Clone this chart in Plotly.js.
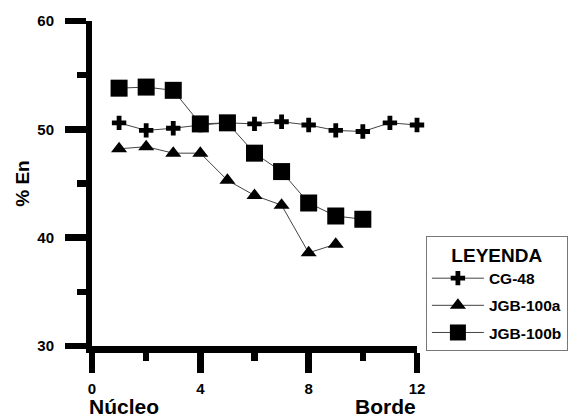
<!DOCTYPE html>
<html>
<head>
<meta charset="utf-8">
<script src="https://cdn.plot.ly/plotly-3.0.1.min.js"></script>
<style>html,body{margin:0;padding:0;background:#fff;}#chart{width:574px;height:419px;}</style>
</head>
<body>
<div id="chart"></div>
<script>
const posCG48 = [1,2,3,4,5,6,7,8,9,10,11,12];
const valCG48 = [50.6,49.9,50.1,50.4,50.6,50.5,50.7,50.4,49.9,49.8,50.6,50.4];
const posJGB100a = [1,2,3,4,5,6,7,8,9];
const valJGB100a = [48.2,48.4,47.8,47.8,45.3,43.9,43.0,38.6,39.4];
const posJGB100b = [1,2,3,4,5,6,7,8,9,10];
const valJGB100b = [53.8,53.9,53.6,50.5,50.6,47.8,46.1,43.2,42.0,41.7];
const seriesNames = ['CG-48','JGB-100a','JGB-100b'];
const xTicks = [0,4,8,12];
const yTicks = [30,40,50,60];

const FONT = 'Liberation Sans, Arial, Helvetica, sans-serif';
const lineStyle = {color:'#444', width:1};

function tr(x, y, name, symbol, size, grp){
  return {x:x, y:y, name:name, legendgroup:grp, type:'scatter', mode:'lines+markers', cliponaxis:false,
    line:lineStyle, marker:{symbol:symbol, size:size, color:'#000', line:{width:0}}};
}
const data = [
  tr(posCG48, valCG48, seriesNames[0], 'cross', 12, 'a'),
  tr(posJGB100a, valJGB100a, seriesNames[1], 'triangle-up', 14, 'b'),
  tr(posJGB100b, valJGB100b, seriesNames[2], 'square', 17, 'c')
];

const LW = 6.5;
const axisCommon = {showgrid:false, zeroline:false, showline:true, linecolor:'#000', linewidth:LW,
  ticks:'outside', tickcolor:'#000', tickwidth:LW,
  tickfont:{family:FONT, size:15, color:'#000', weight:'bold'}};

const layout = {
  width:574, height:419,
  margin:{l:91.5, r:157, t:20.7, b:73.2, pad:0},
  paper_bgcolor:'#fff', plot_bgcolor:'#fff',
  showlegend:true,
  xaxis:Object.assign({}, axisCommon, {range:[0,12], tickvals:xTicks, ticklen:20, ticklabelstandoff:3,
    minor:{dtick:2, tick0:0, ticks:'outside', ticklen:8, tickwidth:LW, tickcolor:'#000', showgrid:false}}),
  yaxis:Object.assign({}, axisCommon, {range:[30,60], tickvals:yTicks, ticklen:20.5, ticklabelstandoff:8,
    minor:{dtick:5, tick0:0, ticks:'outside', ticklen:9, tickwidth:LW, tickcolor:'#000', showgrid:false},
    title:{text:'% En', font:{family:FONT, size:19, color:'#000', weight:'bold'}, standoff:5}}),
  legend:{xref:'container', yref:'container', x:0.742, xanchor:'left', y:0.437, yanchor:'top',
    bordercolor:'#777', borderwidth:1,
    bgcolor:'#fff', itemwidth:52, tracegroupgap:4,
    font:{family:FONT, size:15.5, color:'#000', weight:'bold'},
    title:{text:'LEYENDA', side:'top center', font:{family:FONT, size:19, color:'#000', weight:'bold'}}},
  annotations:[
    {text:'Núcleo', xref:'paper', x:-0.013, xanchor:'left', yref:'paper', y:-0.225, yanchor:'bottom', showarrow:false, borderpad:0,
      font:{family:FONT, size:21, color:'#000', weight:'bold'}},
    {text:'Borde', xref:'paper', x:1, xanchor:'right', yref:'paper', y:-0.225, yanchor:'bottom', showarrow:false, borderpad:0,
      font:{family:FONT, size:21, color:'#000', weight:'bold'}}
  ]
};
Plotly.newPlot('chart', data, layout, {displayModeBar:false, staticPlot:true});
</script>
</body>
</html>
